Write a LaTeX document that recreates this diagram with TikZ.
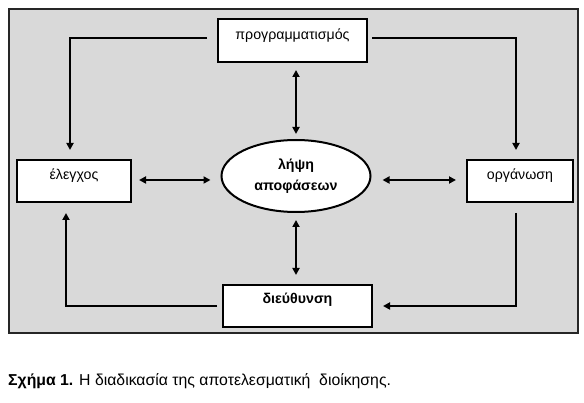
\documentclass[tikz,border=0pt]{standalone}
\usepackage{fontspec}
\setmainfont{Liberation Sans}
\usetikzlibrary{arrows.meta,shapes.geometric,calc}
\definecolor{bggray}{HTML}{D9D9D9}
\definecolor{framecol}{HTML}{262626}
\begin{document}
\begin{tikzpicture}[x=1pt,y=-1pt,
  box/.style={draw=black,line width=2pt,fill=white,inner sep=0pt},
  lbl/.style={font=\fontsize{14.2}{16}\selectfont,inner sep=0pt},
  conn/.style={line width=1.9pt,-{Triangle[length=7pt,width=7pt]}},
  dconn/.style={line width=1.9pt,{Triangle[length=7pt,width=7pt]}-{Triangle[length=7pt,width=7pt]}}]
\useasboundingbox (0,0) rectangle (584,403);
\fill[white] (0,0) rectangle (584,403);
\draw[fill=bggray,draw=framecol,line width=2.5pt] (9,9) rectangle (578,333);
% boxes
\node[box,minimum width=149pt,minimum height=43pt] (prog) at (292.5,40.5) {};
\node[lbl] (progt) at (292.5,36) {προγραμματισμός};
\node[box,minimum width=114pt,minimum height=42pt] (eleg) at (74,181) {};
\node[lbl] (elegt) at (74,176) {έλεγχος};
\node[box,minimum width=106pt,minimum height=42pt] (org) at (520,181) {};
\node[lbl] (orgt) at (520,176) {οργάνωση};
\node[box,minimum width=149pt,minimum height=42pt] (dieu) at (297.5,306) {};
\node[lbl,font=\fontsize{14.2}{16}\selectfont\bfseries] (dieut) at (297.5,300) {διεύθυνση};
\node[box,ellipse,minimum width=149pt,minimum height=72pt,align=center,inner sep=0pt,
  font=\fontsize{14.2}{21}\selectfont\bfseries] (lipsi) at (296,176) {λήψη\\αποφάσεων};
% double arrows
\draw[dconn] ([yshift=-7pt]prog.south -| lipsi.north) coordinate (a1) -- ([yshift=5pt]lipsi.north) coordinate (a2);
\draw[dconn] ([yshift=-7pt]lipsi.south) coordinate (b1) -- ([yshift=9pt]dieu.north -| lipsi.south) coordinate (b2);
\draw[dconn] ([xshift=7pt]eleg.east |- 0,180) coordinate (c1) -- ([xshift=-10pt]lipsi.west |- 0,180) coordinate (c2);
\draw[dconn] ([xshift=11pt]lipsi.east |- 0,180) coordinate (d1) -- ([xshift=-10pt]org.west |- 0,180) coordinate (d2);
% cycle arrows
\draw[conn] ([xshift=-10pt]prog.west |- 0,38) -- (70,38) -- (70,150) coordinate (e1);
\draw[conn] ([xshift=4pt]prog.east |- 0,38) -- (516,38) -- (516,150) coordinate (e2);
\draw[conn] (516,213) coordinate (e3) -- (516,306) -- ([xshift=10pt]dieu.east |- 0,306);
\draw[conn] ([xshift=-5pt]dieu.west |- 0,306) -- (66,306) -- (66,213) coordinate (e4);
% caption
\node[anchor=base west,inner sep=0pt,font=\fontsize{15.8}{18}\selectfont] (cap) at (8,385)
  {\textbf{Σχήμα 1.} Η διαδικασία της αποτελεσματική\ \ διοίκησης.};
\end{tikzpicture}
\end{document}
